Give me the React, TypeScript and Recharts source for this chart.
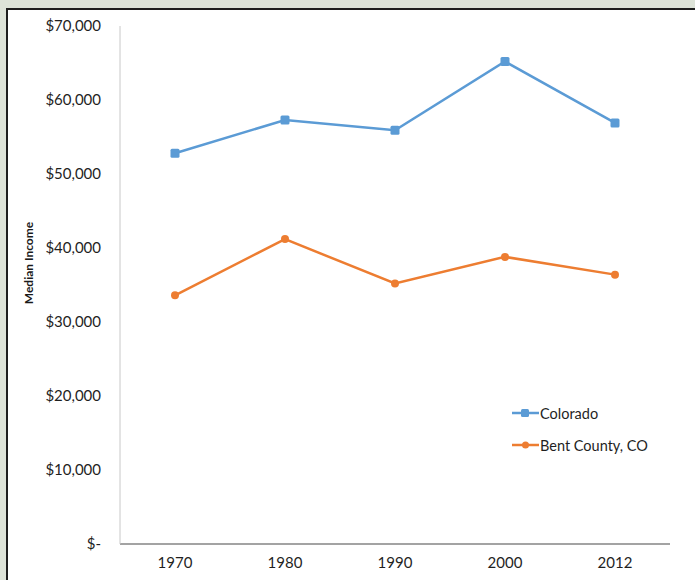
import React from "react";
import { LineChart, Line, XAxis, YAxis } from "recharts";

const years = ["1970", "1980", "1990", "2000", "2012"];
const colorado = [52800, 57300, 55900, 65200, 56900];
const bentCounty = [33600, 41200, 35200, 38800, 36400];
const yTicks = [0, 10000, 20000, 30000, 40000, 50000, 60000, 70000];

const data = years.map((y, i) => ({ year: y, colorado: colorado[i], bent: bentCounty[i] }));

const BLUE = "#5b9bd5";
const ORANGE = "#ed7d31";
const FONT = "Lato, 'Open Sans', sans-serif";

const fmt = (v: number) => (v === 0 ? "$-" : "$" + v.toLocaleString("en-US"));

const SquareDot = (props: any) => {
  const { cx, cy } = props;
  if (cx == null || cy == null) return null;
  return <rect x={cx - 4.5} y={cy - 4.5} width={9} height={9} rx={1.5} fill={BLUE} />;
};
const RoundDot = (props: any) => {
  const { cx, cy } = props;
  if (cx == null || cy == null) return null;
  return <circle cx={cx} cy={cy} r={4} fill={ORANGE} />;
};

const legendItems = [
  { label: "Colorado", color: BLUE, square: true },
  { label: "Bent County, CO", color: ORANGE, square: false },
];

const LegendBox = () => (
  <div style={{ position: "absolute", left: 512, top: 397, fontFamily: FONT, fontSize: 14.5, color: "#1f1f1f" }}>
    {legendItems.map((it) => (
      <div key={it.label} style={{ display: "flex", alignItems: "center", height: 32 }}>
        <svg width={27} height={12} style={{ marginRight: 1 }}>
          <line x1={0} y1={6} x2={27} y2={6} stroke={it.color} strokeWidth={2.5} />
          {it.square ? (
            <rect x={9} y={2} width={8} height={8} rx={1.5} fill={it.color} />
          ) : (
            <circle cx={13.5} cy={6} r={3.5} fill={it.color} />
          )}
        </svg>
        <span>{it.label}</span>
      </div>
    ))}
  </div>
);

export default function App() {
  return (
    <div style={{ position: "absolute", left: 0, top: 0, width: 695, height: 580, background: "#dde3d8", overflow: "hidden" }}>
      <div
        style={{
          position: "absolute",
          left: 6,
          top: 8,
          width: 700,
          height: 590,
          background: "#ffffff",
          borderLeft: "2px solid #1e1e1e",
          borderTop: "2px solid #1e1e1e",
        }}
      />
      <div
        style={{
          position: "absolute",
          left: 28,
          top: 263,
          transform: "translate(-50%, -50%) rotate(-90deg)",
          whiteSpace: "nowrap",
          fontFamily: FONT,
          fontWeight: 700,
          fontSize: 12,
          color: "#1a1a1a",
        }}
      >
        Median Income
      </div>
      <div style={{ position: "absolute", left: 0, top: 0 }}>
        <LineChart width={695} height={580} data={data} margin={{ top: 26, right: 25, bottom: 6, left: 0 }}>
          <XAxis
            dataKey="year"
            height={30}
            padding={{ left: 55, right: 55 }}
            tickLine={false}
            tickSize={0}
            tickMargin={13}
            axisLine={{ stroke: "#858585", strokeWidth: 1.5 }}
            tick={{ fontFamily: FONT, fontSize: 15, fill: "#1f1f1f" }}
          />
          <YAxis
            width={120}
            domain={[0, 70000]}
            ticks={yTicks}
            tickFormatter={fmt}
            tickLine={false}
            tickSize={0}
            tickMargin={19}
            axisLine={{ stroke: "#c8c8c8", strokeWidth: 1 }}
            tick={{ fontFamily: FONT, fontSize: 15, fill: "#1f1f1f" }}
          />
          <Line
            dataKey="colorado"
            name="Colorado"
            stroke={BLUE}
            strokeWidth={2.5}
            dot={<SquareDot />}
            activeDot={false}
            isAnimationActive={false}
          />
          <Line
            dataKey="bent"
            name="Bent County, CO"
            stroke={ORANGE}
            strokeWidth={2.5}
            dot={<RoundDot />}
            activeDot={false}
            isAnimationActive={false}
          />
        </LineChart>
      </div>
      <LegendBox />
    </div>
  );
}
